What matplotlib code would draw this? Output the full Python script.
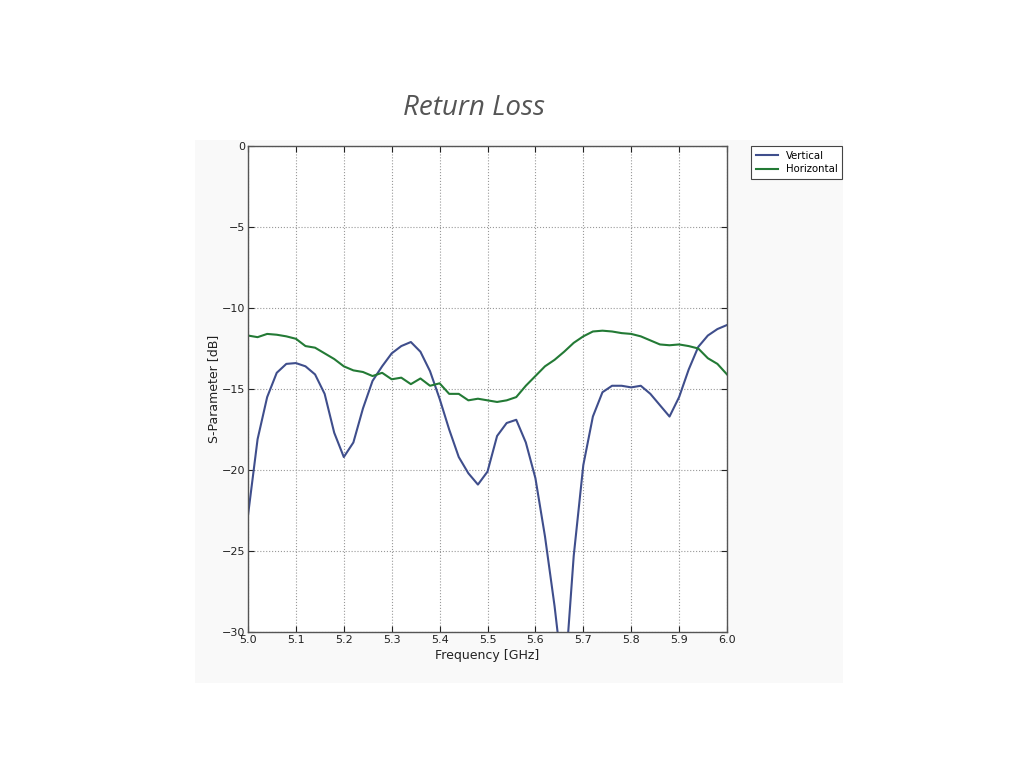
import matplotlib
matplotlib.use("Agg")
import matplotlib.pyplot as plt
import numpy as np

freq = [5.00, 5.02, 5.04, 5.06, 5.08, 5.10, 5.12, 5.14, 5.16, 5.18,
        5.20, 5.22, 5.24, 5.26, 5.28, 5.30, 5.32, 5.34, 5.36, 5.38,
        5.40, 5.42, 5.44, 5.46, 5.48, 5.50, 5.52, 5.54, 5.56, 5.58,
        5.60, 5.62, 5.64, 5.66, 5.68, 5.70, 5.72, 5.74, 5.76, 5.78,
        5.80, 5.82, 5.84, 5.86, 5.88, 5.90, 5.92, 5.94, 5.96, 5.98, 6.00]

vertical = [-22.8, -18.1, -15.5, -14.0, -13.45, -13.4, -13.6, -14.1, -15.3, -17.7,
            -19.2, -18.3, -16.2, -14.5, -13.6, -12.8, -12.35, -12.1, -12.7, -13.9,
            -15.6, -17.5, -19.2, -20.2, -20.9, -20.1, -17.9, -17.1, -16.9, -18.3,
            -20.5, -24.1, -28.4, -33.5, -25.3, -19.7, -16.7, -15.2, -14.8, -14.8,
            -14.9, -14.8, -15.3, -16.0, -16.7, -15.5, -13.8, -12.4, -11.7, -11.3, -11.05]

horizontal = [-11.7, -11.8, -11.6, -11.65, -11.75, -11.9, -12.35, -12.45, -12.8, -13.15,
              -13.6, -13.85, -13.95, -14.2, -14.0, -14.4, -14.3, -14.7, -14.35, -14.8,
              -14.65, -15.3, -15.3, -15.7, -15.6, -15.7, -15.8, -15.7, -15.5, -14.8,
              -14.2, -13.6, -13.2, -12.7, -12.15, -11.75, -11.45, -11.4, -11.45, -11.55,
              -11.6, -11.75, -12.0, -12.25, -12.3, -12.25, -12.35, -12.5, -13.1, -13.45, -14.1]

x_ticks = [5.0, 5.1, 5.2, 5.3, 5.4, 5.5, 5.6, 5.7, 5.8, 5.9, 6.0]
y_ticks = [0, -5, -10, -15, -20, -25, -30]

fig = plt.figure(figsize=(10.24, 7.68), dpi=100)
fig.patch.set_facecolor("white")

# faint panel behind the plot (embedded image background)
bg = fig.add_axes([195 / 1024, 1 - 683 / 768, 648 / 1024, 543 / 768], zorder=0)
bg.set_facecolor("#f9f9f9")
bg.set_xticks([])
bg.set_yticks([])
for s in bg.spines.values():
    s.set_visible(False)

ax = fig.add_axes([248 / 1024, 1 - 632 / 768, 479 / 1024, 486 / 768], zorder=2)
ax.set_facecolor("white")
ax.plot(freq, vertical, color="#3f4e8c", lw=1.5, label="Vertical")
ax.plot(freq, horizontal, color="#237a35", lw=1.5, label="Horizontal")

ax.set_xlim(5.0, 6.0)
ax.set_ylim(-30, 0)
ax.set_xticks(x_ticks)
ax.set_xticklabels([f"{t:.1f}" for t in x_ticks])
ax.set_yticks(y_ticks)
ax.tick_params(direction="in", length=4, labelsize=8, colors="#222222", pad=2,
               top=True, right=True)
ax.grid(True, linestyle=":", color="#999999", linewidth=0.8)
for s in ax.spines.values():
    s.set_color("#555555")
    s.set_linewidth(1.0)

ax.set_xlabel("Frequency [GHz]", fontsize=9, labelpad=3, color="#222222")
ax.set_ylabel("S-Parameter [dB]", fontsize=9, labelpad=1, color="#222222")

leg = ax.legend(loc="upper left", bbox_to_anchor=(1.05, 1.0), fontsize=7.3,
                frameon=True, fancybox=False, borderaxespad=0.0, handlelength=2.2,
                borderpad=0.45, labelspacing=0.35, framealpha=1.0)
leg.get_frame().set_edgecolor("#444444")
leg.get_frame().set_linewidth(0.8)

fig.text(474 / 1024, 1 - 108 / 768, "Return Loss", ha="center", va="center",
         fontsize=20, style="italic", family="Open Sans", color="#555555")

fig.savefig("out.png", dpi=100)
